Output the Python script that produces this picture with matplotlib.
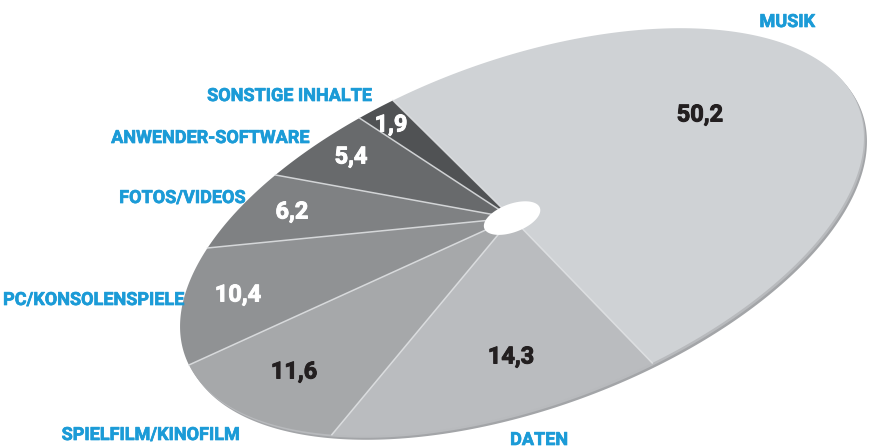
"""Tilted CD pie chart: share of burned content by category (percent)."""

import numpy as np
import matplotlib
matplotlib.use("Agg")
import matplotlib.pyplot as plt
import matplotlib.patheffects as pe

# data, clockwise starting with MUSIK
categories = ["MUSIK", "DATEN", "SPIELFILM/KINOFILM", "PC/KONSOLENSPIELE",
              "FOTOS/VIDEOS", "ANWENDER-SOFTWARE", "SONSTIGE INHALTE"]
shares = [50.2, 14.3, 11.6, 10.4, 6.2, 5.4, 1.9]
value_labels = ["50,2", "14,3", "11,6", "10,4", "6,2", "5,4", "1,9"]

# styling / layout
colors = ["#cfd2d5", "#babcbf", "#a6a8aa", "#909294", "#7f8183", "#686a6c", "#505254"]
value_colors = ["#231f20", "#231f20", "#231f20", "white", "white", "white", "white"]
value_pos = [(700, 333), (511, 91), (294, 76), (238, 153), (292, 236), (351, 291), (391, 323)]
label_pos = [(787, 426), (539, 8), (150, 13), (93, 148), (182, 250), (210, 310), (289, 352)]
BLUE = "#1b9bd7"

# disc geometry in pixel units (y up)
CENTER = np.array([522.0, 216.0])
SEMI = (359.0, 172.0)
TILT = np.deg2rad(20.3)
HOLE = np.array([512.0, 230.0])
START = 102.6        # boundary MUSIK / SONSTIGE, degrees in disc space
HOLE_R = 0.083

rot = np.array([[np.cos(TILT), -np.sin(TILT)], [np.sin(TILT), np.cos(TILT)]])
A = rot @ np.diag(SEMI)
p = np.linalg.solve(A, HOLE - CENTER)
r = np.hypot(*p)
n = p / r


def to_screen(s):
    """Perspective map of unit-disc points (N,2) onto the tilted disc."""
    s = np.atleast_2d(s)
    sn = s @ n
    u = ((sn + r)[:, None] * n + np.sqrt(1 - r * r) * (s - sn[:, None] * n)) / (1 + r * sn)[:, None]
    return u @ A.T + CENTER


def arc(a0, a1, rad=1.0, num=200):
    t = np.deg2rad(np.linspace(a0, a1, num))
    return rad * np.c_[np.cos(t), np.sin(t)]


fig = plt.figure(figsize=(8.69, 4.48), dpi=100)
ax = fig.add_axes([0, 0, 1, 1])
ax.set_xlim(0, 869)
ax.set_ylim(0, 448)
ax.axis("off")

# rim shadow
rim = to_screen(arc(0, 360, num=400))
ax.fill(rim[:, 0] + 3, rim[:, 1] - 4, color="#a3a5a8", lw=0, zorder=1)
ax.fill(rim[:, 0] + 1.5, rim[:, 1] - 2, color="#b8babd", lw=0, zorder=1)

bounds = START - 3.6 * np.concatenate([[0.0], np.cumsum(shares)])
apex = to_screen([0.0, 0.0])
for i, col in enumerate(colors):
    edge = to_screen(arc(bounds[i], bounds[i + 1]))
    poly = np.vstack([apex, edge])
    ax.fill(poly[:, 0], poly[:, 1], color=col, lw=0, zorder=2)

# light seams between slices
for b in bounds[:-1]:
    seg = to_screen(np.array([[0.0, 0.0], [np.cos(np.deg2rad(b)), np.sin(np.deg2rad(b))]]))
    ax.plot(seg[:, 0], seg[:, 1], color="#e2e4e6", lw=1.1, alpha=0.85, zorder=3)

# centre hole
hole = to_screen(arc(0, 360, rad=HOLE_R, num=120))
ax.fill(hole[:, 0], hole[:, 1], color="white", lw=0, zorder=4)

font = ["Roboto", "DejaVu Sans"]
for txt, (x, y), c in zip(value_labels, value_pos, value_colors):
    ax.text(x, y, txt, ha="center", va="center", color=c, fontsize=17,
            fontweight="bold", family=font, zorder=5,
            path_effects=[pe.withStroke(linewidth=0.7, foreground=c)])

for txt, (x, y) in zip(categories, label_pos):
    ax.text(x, y, txt, ha="center", va="center", color=BLUE, fontsize=13,
            fontweight="bold", family=font, zorder=5,
            path_effects=[pe.withStroke(linewidth=0.5, foreground=BLUE)])

fig.savefig("out.png", dpi=100)
plt.close(fig)
